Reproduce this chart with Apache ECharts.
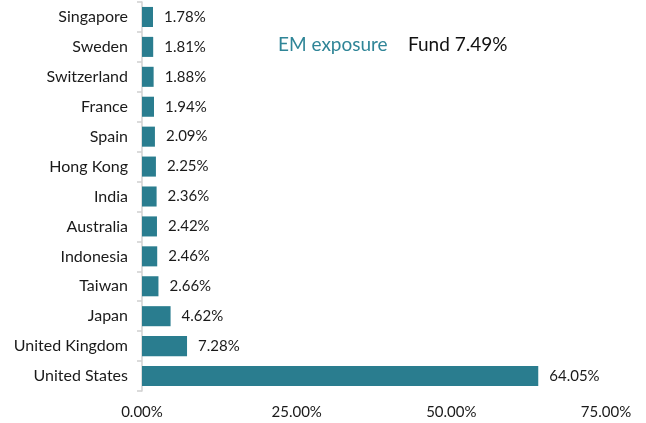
<!DOCTYPE html>
<html>
<head>
<meta charset="utf-8">
<script src="https://cdn.jsdelivr.net/npm/echarts@6/dist/echarts.min.js"></script>
<style>
  html, body { margin: 0; padding: 0; background: #fff; }
  #chart { width: 646px; height: 423px; }
</style>
</head>
<body>
<div id="chart"></div>
<script>
// data
var countries = ['Singapore', 'Sweden', 'Switzerland', 'France', 'Spain', 'Hong Kong', 'India',
  'Australia', 'Indonesia', 'Taiwan', 'Japan', 'United Kingdom', 'United States'];
var weights = [1.78, 1.81, 1.88, 1.94, 2.09, 2.25, 2.36, 2.42, 2.46, 2.66, 4.62, 7.28, 64.05];
var xTicks = [0, 25, 50, 75];
var emLabel = 'EM exposure';
var fundLabel = 'Fund 7.49%';

var barColor = '#2a7d8f';
var fontName = 'Lato';

var chart = echarts.init(document.getElementById('chart'), null, { renderer: 'canvas' });

var option = {
  backgroundColor: '#fff',
  animation: false,
  textStyle: { fontFamily: fontName },
  grid: { left: 142, right: 40, top: 2, bottom: 32, containLabel: false },
  xAxis: {
    type: 'value',
    min: xTicks[0],
    max: xTicks[xTicks.length - 1],
    interval: 25,
    axisLine: { show: false },
    axisTick: { show: false },
    splitLine: { show: false },
    axisLabel: {
      fontSize: 15,
      color: '#1a1a1a',
      margin: 14,
      formatter: function (v) { return v.toFixed(2) + '%'; }
    }
  },
  yAxis: {
    type: 'category',
    inverse: true,
    data: countries,
    axisLine: { show: true, lineStyle: { color: '#d0d0d0', width: 1.5 } },
    axisTick: { show: true, length: 5, lineStyle: { color: '#d0d0d0', width: 1.5 } },
    axisLabel: { fontSize: 16, color: '#1a1a1a', margin: 14 }
  },
  series: [{
    type: 'bar',
    data: weights,
    barCategoryGap: '33%',
    itemStyle: { color: barColor },
    label: {
      show: true,
      position: 'right',
      distance: 11,
      fontSize: 15,
      color: '#1a1a1a',
      formatter: function (p) { return p.value.toFixed(2) + '%'; }
    }
  }],
  graphic: [
    { type: 'text', left: 278, top: 35, style: { text: emLabel, fontSize: 19, fill: '#2f8597', fontFamily: fontName } },
    { type: 'text', left: 408, top: 35, style: { text: fundLabel, fontSize: 19, fill: '#111', fontFamily: fontName } }
  ]
};

chart.setOption(option);
window.addEventListener('resize', chart.resize);
</script>
</body>
</html>
